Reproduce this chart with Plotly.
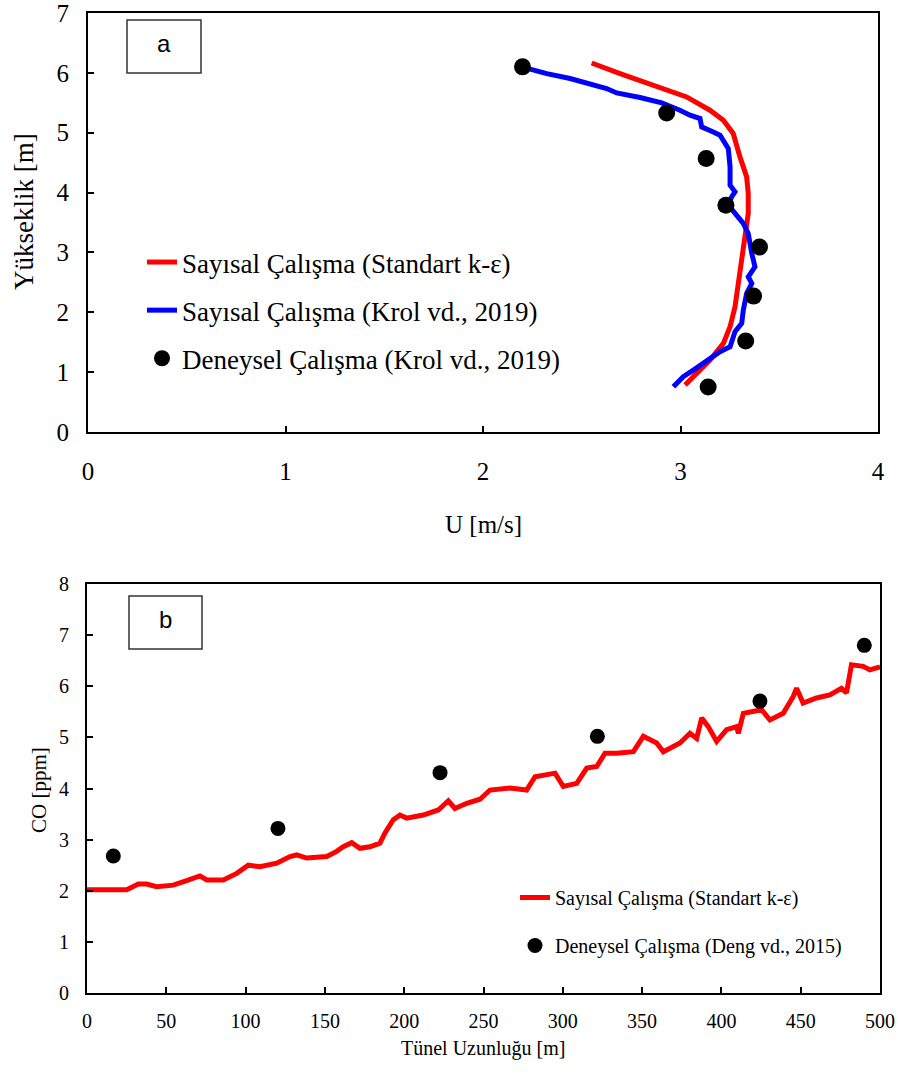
import plotly.graph_objects as go

# ---- Panel a: velocity profiles, U [m/s] vs height [m] ----
u_std = [3.023, 3.082, 3.149, 3.217, 3.251, 3.276, 3.293, 3.310, 3.327, 3.343,
         3.343, 3.335, 3.301, 3.267, 3.217, 3.149, 3.031, 2.880, 2.694, 2.550]
z_std = [0.785, 0.980, 1.202, 1.481, 1.758, 2.092, 2.482, 2.927, 3.317, 3.651,
         3.985, 4.262, 4.596, 4.987, 5.209, 5.376, 5.598, 5.765, 5.988, 6.165]

u_krol = [2.964, 3.014, 3.065, 3.133, 3.200, 3.251, 3.276, 3.310, 3.318, 3.335,
          3.361, 3.343, 3.377, 3.361, 3.343, 3.318, 3.267, 3.242, 3.259, 3.276,
          3.251, 3.251, 3.242, 3.200, 3.166, 3.107, 3.099, 3.048, 2.997, 2.905,
          2.795, 2.677, 2.626, 2.542, 2.441, 2.323, 2.196]
z_krol = [0.756, 0.923, 1.035, 1.202, 1.341, 1.424, 1.674, 1.815, 2.037, 2.316,
          2.482, 2.593, 2.760, 2.983, 3.317, 3.484, 3.678, 3.790, 3.928, 4.012,
          4.124, 4.429, 4.736, 4.958, 5.013, 5.097, 5.237, 5.292, 5.376, 5.498,
          5.588, 5.664, 5.738, 5.821, 5.905, 5.988, 6.099]

u_exp = [3.14, 3.33, 3.37, 3.40, 3.23, 3.13, 2.93, 2.20]
z_exp = [0.75, 1.52, 2.27, 3.09, 3.79, 4.57, 5.33, 6.10]

# ---- Panel b: CO concentration along the tunnel ----
x_co = [0, 25, 32.4, 37.6, 43.9, 54.4, 62.8, 71.2, 75.5, 86, 94.4, 101.7, 109,
        119.6, 128, 132.2, 138.5, 151.1, 157.4, 161.6, 166.9, 172.1, 178.4,
        184.7, 187.9, 193.1, 197.3, 201.6, 212, 221.5, 227.8, 232, 239.4,
        247.8, 254.1, 266.7, 277.2, 282.5, 295.1, 300.3, 308.8, 315.1, 321.4,
        326.6, 334, 344.5, 350.8, 359.2, 363.4, 373.9, 380.2, 384.4, 387.6,
        391.7, 397, 403.3, 409.6, 410.7, 413.8, 420.1, 425.4, 430.6, 439,
        445.3, 447.4, 451.5, 460, 468.4, 475.7, 478.9, 482, 489.4, 493.6, 500]
co_num = [2.02, 2.02, 2.13, 2.13, 2.08, 2.11, 2.20, 2.29, 2.21, 2.21, 2.34,
          2.50, 2.47, 2.54, 2.67, 2.70, 2.64, 2.67, 2.77, 2.86, 2.94, 2.83,
          2.86, 2.93, 3.13, 3.39, 3.48, 3.42, 3.48, 3.58, 3.76, 3.61, 3.71,
          3.79, 3.97, 4.01, 3.97, 4.23, 4.30, 4.04, 4.10, 4.40, 4.43, 4.69,
          4.69, 4.72, 5.02, 4.89, 4.72, 4.89, 5.08, 4.98, 5.38, 5.21, 4.92,
          5.15, 5.21, 5.08, 5.47, 5.50, 5.54, 5.34, 5.47, 5.80, 5.96, 5.67,
          5.77, 5.83, 5.96, 5.87, 6.42, 6.39, 6.32, 6.38]

x_co_exp = [16.6, 120.4, 222.6, 321.8, 424.3, 490.1]
co_exp = [2.68, 3.22, 4.31, 5.02, 5.71, 6.80]

SERIF = "Liberation Serif"
SANS = "Liberation Sans"
W, H = 898, 1077

fig = go.Figure()

fig.add_trace(go.Scatter(
    x=u_std, y=z_std, mode="lines", name="Sayısal Çalışma (Standart k-ε)",
    line=dict(color="#ff0000", width=5), legendgroup="a1",
    xaxis="x", yaxis="y", legend="legend"))
fig.add_trace(go.Scatter(
    x=u_krol, y=z_krol, mode="lines", name="Sayısal Çalışma (Krol vd., 2019)",
    line=dict(color="#0000ff", width=5), legendgroup="a2",
    xaxis="x", yaxis="y", legend="legend"))
fig.add_trace(go.Scatter(
    x=u_exp, y=z_exp, mode="markers", name="Deneysel Çalışma (Krol vd., 2019)",
    marker=dict(color="black", size=17), legendgroup="a3",
    xaxis="x", yaxis="y", legend="legend"))

fig.add_trace(go.Scatter(
    x=x_co, y=co_num, mode="lines", name="Sayısal Çalışma (Standart k-ε)",
    line=dict(color="#ff0000", width=5), legendgroup="b1",
    xaxis="x2", yaxis="y2", legend="legend2"))
fig.add_trace(go.Scatter(
    x=x_co_exp, y=co_exp, mode="markers", name="Deneysel Çalışma (Deng vd., 2015)",
    marker=dict(color="black", size=15), legendgroup="b2",
    xaxis="x2", yaxis="y2", legend="legend2"))


def axis(domain, rng, dtick, anchor, size, standoff):
    return dict(domain=domain, range=rng, dtick=dtick, anchor=anchor,
                ticks="inside", ticklen=6, tickwidth=1.5, tickcolor="black",
                showline=True, linecolor="black", linewidth=2, mirror=True,
                showgrid=False, zeroline=False, automargin=False,
                ticklabeloverflow="allow",
                tickfont=dict(family=SERIF, size=size, color="black"),
                ticklabelstandoff=standoff)


fig.update_layout(
    width=W, height=H,
    margin=dict(l=0, r=0, t=0, b=0, pad=0, autoexpand=False),
    paper_bgcolor="white", plot_bgcolor="white",
    xaxis=axis([88 / W, 878 / W], [0, 4], 1, "y", 25, 16),
    yaxis=axis([1 - 432 / H, 1 - 13 / H], [0, 7], 1, "x", 25, 12),
    xaxis2=axis([87 / W, 880 / W], [0, 500], 50, "y2", 20, 9),
    yaxis2=axis([1 - 993 / H, 1 - 584 / H], [0, 8], 1, "x2", 20, 12),
    legend=dict(x=142 / W, y=1 - 238 / H, xanchor="left", yanchor="top",
                bgcolor="rgba(0,0,0,0)", borderwidth=0, tracegroupgap=10,
                font=dict(family=SERIF, size=27, color="black")),
    legend2=dict(x=515 / W, y=1 - 878 / H, xanchor="left", yanchor="top",
                 bgcolor="rgba(0,0,0,0)", borderwidth=0, tracegroupgap=19,
                 font=dict(family=SERIF, size=20, color="black")),
    showlegend=True,
)

# panel tags
for (x0, y0, x1, y1, tag) in [(127, 20, 201, 73, "a"), (129, 596, 202, 649, "b")]:
    fig.add_shape(type="rect", xref="paper", yref="paper",
                  x0=x0 / W, x1=x1 / W, y0=1 - y1 / H, y1=1 - y0 / H,
                  line=dict(color="#333333", width=1.5), fillcolor="white")
    fig.add_annotation(xref="paper", yref="paper", x=(x0 + x1) / 2 / W,
                       y=1 - ((y0 + y1) / 2 - 3) / H, text=tag, showarrow=False,
                       xanchor="center", yanchor="middle",
                       font=dict(family=SANS, size=24, color="black"))

# axis titles
titles = [
    ("U [m/s]", 483, 524, 0, 25),
    ("Yükseklik [m]", 24, 212, -90, 27),
    ("Tünel Uzunluğu [m]", 483, 1048, 0, 20),
    ("CO [ppm]", 39, 790, -90, 21),
]
for text, px, py, ang, size in titles:
    fig.add_annotation(xref="paper", yref="paper", x=px / W, y=1 - py / H,
                       text=text, showarrow=False, textangle=ang,
                       xanchor="center", yanchor="middle",
                       font=dict(family=SERIF, size=size, color="black"))

fig.write_html("out.html")
